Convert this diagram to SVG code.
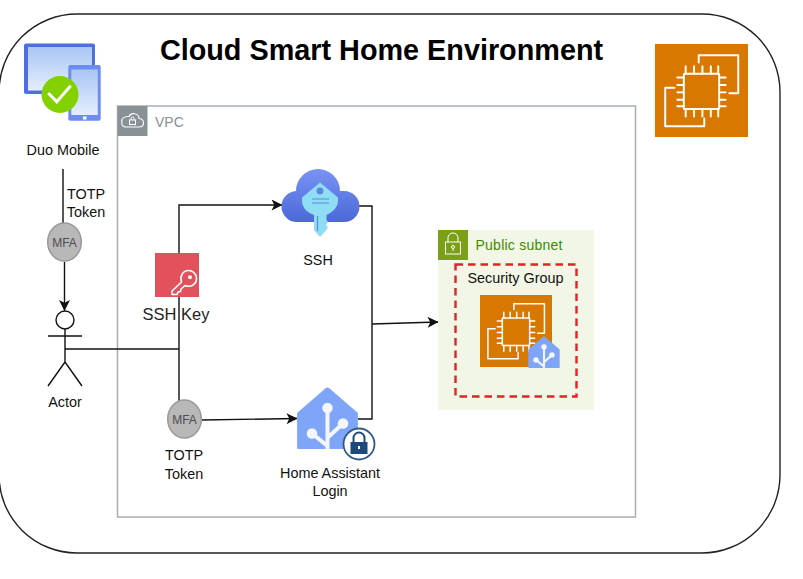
<svg xmlns="http://www.w3.org/2000/svg" width="803" height="579" viewBox="0 0 803 579">
<style>
text{font-family:"Liberation Sans",Arial,sans-serif;fill:#111}
.l{font-size:14.400px;text-anchor:middle}
.c{fill:none;stroke:#111;stroke-width:1.4}
.mfa{fill:#b8b8b8;stroke:#9a9a9a;stroke-width:1.5}
.mt{font-size:12px;text-anchor:middle;fill:#4d4d4d}
.w{fill:none;stroke:#fff;stroke-width:2.1;stroke-linecap:round;stroke-linejoin:round}
</style>
<defs>
<marker id="a" viewBox="0 0 10 10" refX="9.500" refY="5" markerWidth="12" markerHeight="11" orient="auto" markerUnits="userSpaceOnUse"><path d="M0 0L10 5L0 10L2.500 5Z" fill="#111"/></marker>
<linearGradient id="cl" gradientUnits="userSpaceOnUse" x1="0" y1="168" x2="0" y2="222"><stop offset="0" stop-color="#7a93f5"/><stop offset="1" stop-color="#4a68d8"/></linearGradient>
<linearGradient id="scr" x1="0" y1="0" x2="0" y2="1"><stop offset="0" stop-color="#a9c6f5"/><stop offset="1" stop-color="#e3eefc"/></linearGradient>
<g id="chip">
<rect width="100" height="100" fill="#d97800"/>
<path class="w" d="M47 20V12H89.500V53H80M21 47H11V88.500H53V80"/>
<rect class="w" x="31" y="32" width="38" height="38" rx="1"/>
<path class="w" d="M33 24V32M42 24V32M51 24V32M60 24V32M68 24V32M33 70V78M42 70V78M51 70V78M60 70V78M68 70V78M24 36H31M24 44H31M24 52H31M24 60H31M24 67H31M69 36H76M69 44H76M69 52H76M69 60H76M69 67H76"/>
</g>
<g id="ha">
<path d="M1 98V42L47 2Q50 0 53 2L99 42V98Q99 100 97 100H3Q1 100 1 98Z" fill="#7fa5f8"/>
<path d="M50 34V100M50 95L25 75M50 82L75 59" fill="none" stroke="#f3f6fe" stroke-width="6.500"/>
<circle cx="50" cy="34" r="8.500" fill="#f3f6fe"/><circle cx="25" cy="75" r="8.500" fill="#f3f6fe"/><circle cx="75" cy="59" r="8.500" fill="#f3f6fe"/>
</g>
</defs>
<rect width="803" height="579" fill="#fff"/>
<rect id="frame" x="-1" y="14" width="781" height="539" rx="78" ry="78" fill="#fff" stroke="#222" stroke-width="1.4"/>
<text x="381.500" y="60" font-size="28.800" font-weight="700" text-anchor="middle" style="fill:#000">Cloud Smart Home Environment</text>

<g id="vpc">
<rect x="117.500" y="106" width="518" height="411" fill="#fff" stroke="#a8aeb4" stroke-width="1.500"/>
<rect x="117.500" y="106" width="30" height="30" fill="#879196"/>
<path d="M126 127H139C145 127 145 119 139 118.500C139 113 131 112 129 116.500C124 116 121 119 122 122C121 125 123 127 126 127Z" fill="none" stroke="#fff" stroke-width="1.100"/>
<rect x="129.500" y="120" width="6" height="4.500" fill="none" stroke="#fff"/>
<path d="M131 120V118.500A1.500 1.500 0 0 1 134 118.500V120" fill="none" stroke="#fff"/>
<text x="155" y="127" font-size="14" style="fill:#879196">VPC</text>
</g>

<g id="connectors">
<path class="c" d="M63 169V224"/>
<path class="c" d="M64.500 262V310.500" marker-end="url(#a)"/>
<path class="c" d="M65 349H179"/>
<path class="c" d="M179 401V205H282" marker-end="url(#a)"/>
<path class="c" d="M202 420L297 418.500" marker-end="url(#a)"/>
<path class="c" d="M358 206H372V419H358"/>
<path class="c" d="M372 324L438 322" marker-end="url(#a)"/>
</g>

<g id="duo">
<rect x="24" y="43.500" width="71" height="50.500" rx="2" fill="#4f6fe0"/>
<rect x="28" y="47" width="64" height="43.500" fill="url(#scr)"/>
<rect x="68.300" y="65" width="32.400" height="55.700" rx="2" fill="#6e8cf0"/>
<rect x="71.300" y="69.500" width="26.500" height="45.500" fill="url(#scr)"/>
<rect x="83" y="116.500" width="3.500" height="3" fill="#fff"/>
<circle cx="60" cy="94.500" r="18.500" fill="#84d100"/>
<path d="M48.300 93L56.700 101.700L70.700 85.700" fill="none" stroke="#fff" stroke-width="3"/>
<text class="l" x="63" y="155">Duo Mobile</text>
</g>

<g id="totp1"><text class="l" x="86" y="199">TOTP</text><text class="l" x="86" y="217">Token</text></g>

<g id="mfa1"><ellipse class="mfa" cx="64.500" cy="242" rx="16.800" ry="19"/><text class="mt" x="64.500" y="247">MFA</text></g>

<g id="actor">
<circle cx="65" cy="320" r="9" fill="#fff" stroke="#111" stroke-width="1.400"/>
<path class="c" d="M65 329V362M48 336H82M48 386L65 362L82 386"/>
<text class="l" x="65" y="407">Actor</text>
</g>

<g id="key">
<rect x="155" y="253" width="44" height="44" fill="#e2525c"/>
<path d="M181.500 282L172 291L172 294.500L177 294.500L178 292L180.500 291.500L181 289L185 285.500C191 288 196.500 284 196.500 278.500C196.500 273.500 192.500 270.500 188.500 270.500C183 270.500 179.500 276.500 181.500 282Z" fill="none" stroke="#fff" stroke-width="1.600" stroke-linejoin="round"/>
<circle cx="190" cy="277.300" r="2" fill="#fff"/>
<text x="176" y="320" font-size="16.500" text-anchor="middle" style="fill:#222">SSH Key</text>
</g>

<g id="mfa2"><ellipse class="mfa" cx="184.500" cy="419" rx="16.800" ry="19"/><text class="mt" x="184.500" y="424">MFA</text><text class="l" x="184" y="460">TOTP</text><text class="l" x="184" y="479">Token</text></g>

<g id="ssh">
<path fill="url(#cl)" d="M297 222A15.500 15.500 0 0 1 297 191L296 191A22 22 0 0 1 340 191L344 191A15.500 15.500 0 0 1 344 222Z"/>
<path d="M320 182.500L338 197.500V201C338 208 331 213 326.500 215V220L328 222L326 225L328 227L326.500 230L320 237L314 230V215C308 213 302 208 302 201V197.500Z" fill="#8fdcf5"/>
<circle cx="320" cy="191" r="3.400" fill="#5f86da"/>
<path d="M312 199H329M312 203H329M317.500 216V231" stroke="#5f86da" stroke-width="1.200" fill="none"/>
<text class="l" x="318" y="265">SSH</text>
</g>

<g id="ha-login">
<use href="#ha" transform="translate(296.500 387) scale(0.62)"/>
<circle cx="359" cy="444" r="15.500" fill="#fff" stroke="#2d5b8c" stroke-width="1.800"/>
<rect x="350.500" y="442" width="17" height="12" fill="#1d4a7a"/>
<path d="M353.500 442V438A5.500 5.500 0 0 1 364.500 438V442" fill="none" stroke="#1d4a7a" stroke-width="2"/>
<rect x="358" y="446" width="2" height="3" fill="#fff"/>
<text class="l" x="330" y="478">Home Assistant</text><text class="l" x="330" y="496">Login</text>
</g>

<g id="subnet">
<rect x="438" y="230" width="156" height="180" fill="#f2f6e6"/>
<rect x="438" y="230" width="30" height="30" fill="#7aa116"/>
<rect x="445.500" y="242" width="15" height="12" fill="none" stroke="#fff" stroke-width="1"/>
<path d="M448 242V238A5 5 0 0 1 458 238V242" fill="none" stroke="#fff"/>
<circle cx="453" cy="247" r="1.500" fill="none" stroke="#fff"/><path d="M453 248.500V251" stroke="#fff"/>
<text x="475.500" y="250" font-size="14" textLength="87" style="fill:#3f8a00">Public subnet</text>
</g>

<g id="security-group">
<rect x="455.500" y="264.500" width="121" height="132" fill="none" stroke="#e32222" stroke-width="2.400" stroke-dasharray="7.500 5"/>
<text class="l" x="515.500" y="283">Security Group</text>
</g>

<g id="instance">
<use href="#chip" transform="translate(480 295) scale(0.72)"/>
<use href="#ha" transform="translate(528 336) scale(0.32)"/>
</g>

<g id="ec2"><use href="#chip" transform="translate(655 44) scale(0.93)"/></g>
</svg>
